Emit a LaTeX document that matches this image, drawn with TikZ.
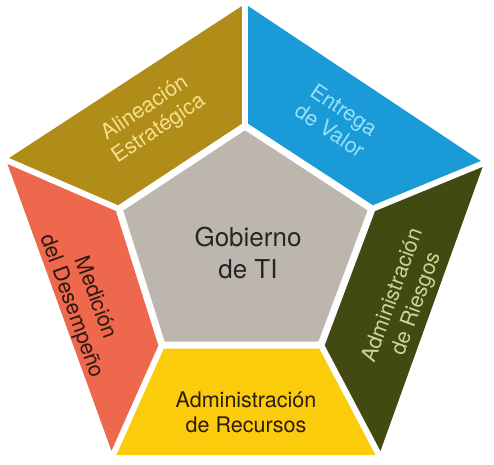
\documentclass[tikz,border=0pt]{standalone}
\usepackage{fontspec}
\setmainfont{TeX Gyre Heros}
\definecolor{goldc}{RGB}{176,140,24}
\definecolor{bluec}{RGB}{26,155,215}
\definecolor{greenc}{RGB}{66,74,18}
\definecolor{orangec}{RGB}{238,104,78}
\definecolor{yellowc}{RGB}{250,204,12}
\definecolor{grayc}{RGB}{189,182,175}
\definecolor{goldtxt}{RGB}{245,225,140}
\definecolor{bluetxt}{RGB}{150,225,248}
\definecolor{greentxt}{RGB}{200,215,150}
\definecolor{darktxt}{RGB}{45,25,15}
\tikzset{
  gap/.style={draw=white,line width=6pt,shorten >=-5pt},
  lbl/.style={align=center,font=\fontsize{21.5}{25}\selectfont,inner sep=0pt},
}
\begin{document}
\begin{tikzpicture}[x=1pt,y=-1pt]
\useasboundingbox (0,0) rectangle (494,464);
% outer vertices
\coordinate (OT) at (245,4);
\coordinate (OR) at (484,163);
\coordinate (OBR) at (379,455);
\coordinate (OBL) at (113,455);
\coordinate (OL) at (6,160);
% inner vertices (gap midline)
\coordinate (IT) at (245,126);
\coordinate (IR) at (372,209);
\coordinate (IBR) at (321,345);
\coordinate (IBL) at (162,345);
\coordinate (IL) at (119,209);
% segments
\fill[goldc] (OL) -- (OT) -- (IT) -- (IL) -- cycle;
\fill[bluec] (OT) -- (OR) -- (IR) -- (IT) -- cycle;
\fill[greenc] (OR) -- (OBR) -- (IBR) -- (IR) -- cycle;
\fill[yellowc] (OBR) -- (OBL) -- (IBL) -- (IBR) -- cycle;
\fill[orangec] (OBL) -- (OL) -- (IL) -- (IBL) -- cycle;
% gaps
\draw[gap] (IT) -- (OT);
\draw[gap] (IR) -- (OR);
\draw[gap] (IBR) -- (OBR);
\draw[gap] (IBL) -- (OBL);
\draw[gap] (IL) -- (OL);
% centre
\filldraw[fill=grayc,draw=white,line width=7pt,line join=round,rounded corners=2pt]
  (IT) -- (IR) -- (IBR) -- (IBL) -- (IL) -- cycle;
% labels
\node[lbl,font=\fontsize{26}{31.5}\selectfont,text=black!85] (gob) at (248,253) {Gobierno\\de TI};
\node[lbl,text=goldtxt,rotate=34] (ali) at (152,119) {Alineación\\Estratégica};
\node[lbl,text=bluetxt,rotate=-34] (ent) at (337,120) {Entrega\\de Valor};
\node[lbl,text=greentxt,rotate=70] (rie) at (405,300) {Administración\\de Riesgos};
\node[lbl,text=darktxt] (rec) at (246,412) {Administración\\de Recursos};
\node[lbl,text=darktxt,rotate=-70] (med) at (83,302) {Medición\\del Desempeño};
\end{tikzpicture}
\end{document}
